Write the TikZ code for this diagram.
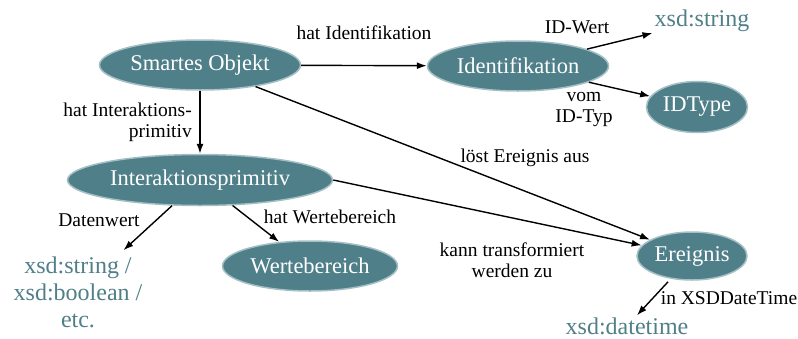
\documentclass[tikz,border=0pt]{standalone}
\usepackage{fontspec}
\setmainfont{Liberation Serif}
\usetikzlibrary{shapes.geometric,arrows.meta}
\definecolor{teal1}{RGB}{79,127,137}
\definecolor{halo}{RGB}{165,192,197}
\tikzset{
  cls/.style={ellipse, fill=teal1, draw=halo, line width=1.5pt, text=white, inner sep=0pt,
    font=\fontsize{22.5}{26}\selectfont},
  lit/.style={text=teal1, inner sep=2pt, align=center, font=\fontsize{24}{27}\selectfont},
  lbl/.style={inner sep=0pt, font=\fontsize{19.5}{21}\selectfont},
  conn/.style={line width=1.4pt, -{Latex[length=10pt,width=7pt]}}
}
\begin{document}
\begin{tikzpicture}[x=1pt,y=-1pt]
\useasboundingbox (0,0) rectangle (798,338);
\node[cls, minimum width=201, minimum height=50] (so) at (200,65) {Smartes Objekt};
\node[cls, minimum width=181, minimum height=50] (id) at (518,66) {Identifikation};
\node[cls, minimum width=101, minimum height=51] (idt) at (697,107) {IDType};
\node[cls, minimum width=265, minimum height=51] (ip) at (200,180) {Interaktionsprimitiv};
\node[cls, minimum width=175, minimum height=50] (wb) at (310,266) {Wertebereich};
\node[cls, minimum width=110, minimum height=48] (ev) at (692,256) {Ereignis};
\node[lit] (xs) at (702,21) {xsd:string};
\node[lit] (xl) at (78,292) {xsd:string /\\xsd:boolean /\\etc.};
\node[lit] (xd) at (627,326) {xsd:datetime};

\draw[conn] (so) -- (id);
\draw[conn] (so) -- (ip);
\draw[conn] (so) -- (ev);
\draw[conn] (ip.east) -- (ev);
\draw[conn] (id) -- (xs);
\draw[conn] (id) -- (idt);
\draw[conn, shorten >=6pt] (ip) -- (xl);
\draw[conn] (ip) -- (wb);
\draw[conn, shorten <=4pt] (ev) -- (xd);

\node[lbl] (l1) at (364,33) {hat Identifikation};
\node[lbl, align=right, anchor=east] (l2) at (192,122) {hat Interaktions-\\primitiv};
\node[lbl] (l3) at (577,27) {ID-Wert};
\node[lbl, align=center] (l4) at (584,110) {vom\\ID-Typ};
\node[lbl] (l5) at (525,158) {löst Ereignis aus};
\node[lbl] (l6) at (99,220) {Datenwert};
\node[lbl] (l7) at (330,217) {hat Wertebereich};
\node[lbl, align=center] (l8) at (512,260) {kann transformiert\\werden zu};
\node[lbl] (l9) at (729,298) {in XSDDateTime};
\end{tikzpicture}
\end{document}
